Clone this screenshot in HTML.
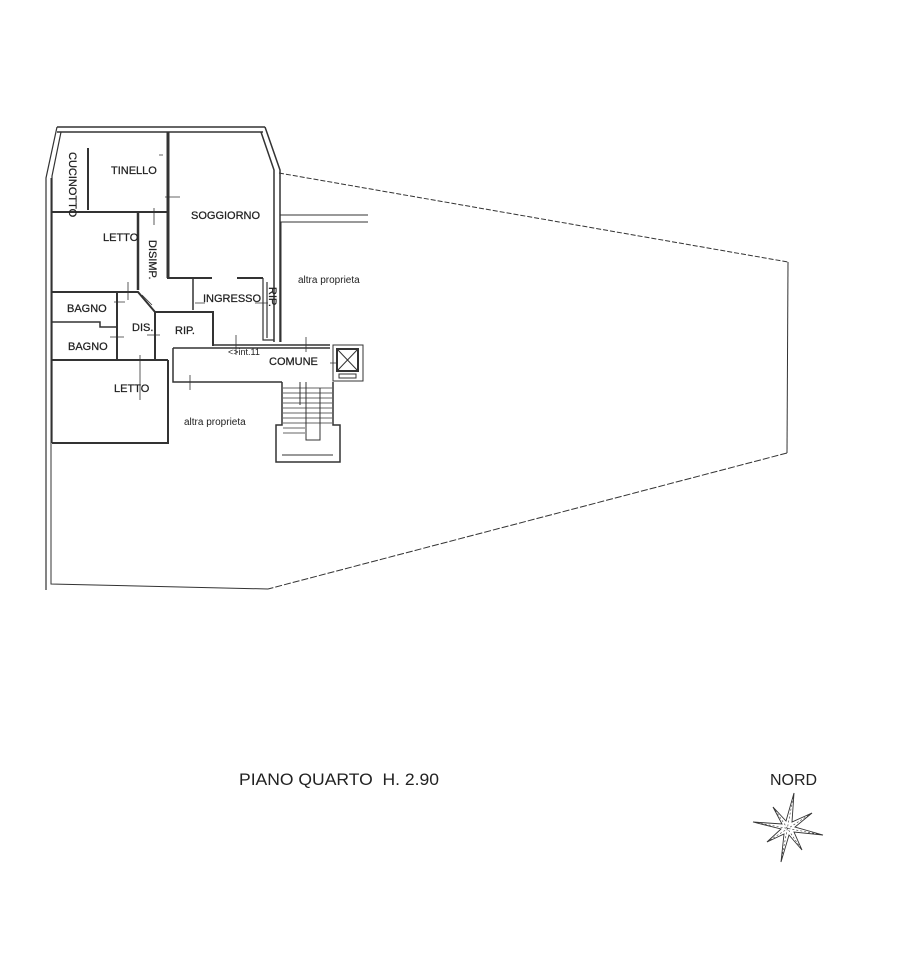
<!DOCTYPE html>
<html><head><meta charset="utf-8"><style>
html,body{margin:0;padding:0;background:#fff;}
svg{display:block;}
text{font-family:"Liberation Sans",sans-serif;fill:#222;}
.l{font-size:11px;stroke:#222;stroke-width:0.25;}
</style></head><body>
<svg width="920" height="968" viewBox="0 0 920 968" xmlns="http://www.w3.org/2000/svg">
<g fill="none" stroke="#333" stroke-width="1">
<path d="M279,173 L788,262" stroke-dasharray="5,2"/>
<path d="M788,262 L787,453"/>
<path d="M787,453 L268,589" stroke-dasharray="7,2"/>
<path d="M268,589 L51,584 L51,178"/>
<path d="M57,127 L265,127 M57,132 L263,132" stroke-width="1.5"/>
<path d="M57,127 L46,178 L46,590 M61,132 L52,176 L52,443" stroke-width="1.2"/>
<path d="M265,127 L280,170 L280,342 M261,132 L274,170 L274,342" stroke-width="1.5"/>
<path d="M280,215 L368,215 M280,222 L368,222"/>
<path d="M281,222 L281,342"/>
<path d="M52,212 L168,212" stroke-width="2"/>
<path d="M168,132 L168,278" stroke-width="3"/>
<path d="M88,148 L88,210" stroke-width="2"/>
<path d="M167,278 L212,278 M237,278 L263,278" stroke-width="2"/>
<path d="M138,212 L138,290" stroke-width="2.5"/>
<path d="M52,292 L138,292 L155,312" stroke-width="2"/>
<path d="M155,312 L213,312 L213,346" stroke-width="2"/>
<path d="M155,312 L155,360" stroke-width="2"/>
<path d="M117,292 L117,360" stroke-width="2"/>
<path d="M52,322 L100,322 L100,327 L117,327" stroke-width="1.5"/>
<path d="M52,360 L168,360" stroke-width="2"/>
<path d="M263,278 L263,340 L274,340 M267,282 L267,338" stroke-width="1.2"/>
<path d="M193,278 L193,310" stroke-width="1.5"/>
<path d="M213,345 L330,345 M173,348 L330,348" stroke-width="1.5"/>
<path d="M173,348 L173,382 L282,382" stroke-width="1.5"/>
<path d="M168,360 L168,443 L52,443" stroke-width="2"/>
<rect x="333" y="345" width="30" height="36"/>
<rect x="337" y="349" width="21" height="22" stroke-width="2"/>
<path d="M337,349 L358,371 M358,349 L337,371"/>
<rect x="339" y="374" width="17" height="4"/>
<path d="M282,382 L282,425 L276,425 L276,462 L340,462 L340,425 L333,425 L333,382" stroke-width="1.5"/>
<path d="M282,455 L333,455"/>
<path d="M300,382 L300,405 M306,382 L306,440 L320,440 L320,388"/>
<g stroke-width="0.7">
<path d="M283,388 L332,388 M283,393 L332,393 M283,398 L332,398 M283,403 L332,403 M283,408 L332,408 M283,413 L332,413 M283,418 L332,418 M283,423 L332,423 M283,428 L305,428 M283,433 L305,433"/>
</g>
<g stroke-width="0.8">
<path d="M165,197 L180,197 M154,208 L154,225 M128,282 L128,300 M114,302 L125,302 M110,337 L124,337 M140,386 L140,400 L140,355 M147,335 L160,335 M142,295 L152,305 M195,303 L205,303 M255,303 L268,303 M236,335 L236,355 M306,337 L306,352 M330,363 L338,363 M190,375 L190,390 M159,155 L163,155"/>
</g>
</g>
<text class="l" x="111" y="174">TINELLO</text>
<text class="l" x="191" y="219">SOGGIORNO</text>
<text class="l" x="103" y="241">LETTO</text>
<text class="l" x="67" y="312">BAGNO</text>
<text class="l" x="68" y="350">BAGNO</text>
<text class="l" x="132" y="331">DIS.</text>
<text class="l" x="175" y="334">RIP.</text>
<text class="l" x="203" y="302">INGRESSO</text>
<text class="l" x="269" y="365">COMUNE</text>
<text class="l" x="114" y="392">LETTO</text>
<text x="228" y="355" font-size="9">&lt;&gt;int.11</text>
<text x="298" y="283" font-size="10">altra proprieta</text>
<text x="184" y="425" font-size="10">altra proprieta</text>
<text class="l" transform="translate(69,152) rotate(90)">CUCINOTTO</text>
<text class="l" transform="translate(149,240) rotate(90)">DISIMP.</text>
<text class="l" transform="translate(269,287) rotate(90)">RIP.</text>
<text x="239" y="785" font-size="17" textLength="200" lengthAdjust="spacingAndGlyphs">PIANO QUARTO&#160;&#160;H. 2.90</text>
<text x="770" y="785" font-size="16">NORD</text>
<g fill="none" stroke="#333" stroke-width="0.9">
<polygon points="794,793 792,822 812,813 795,827 823,835 794,832 802,850 789,835 781,862 784,834 767,842 781,829 753,822 782,824 773,807 786,821"/>
<path d="M794,793 L781,862 M753,822 L823,835 M773,807 L802,850 M812,813 L767,842" stroke-dasharray="2,2" stroke-width="0.6"/>
</g>
</svg>
</body></html>
